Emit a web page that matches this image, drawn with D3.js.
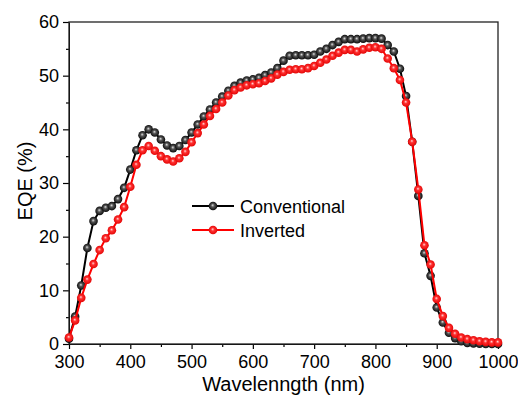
<!DOCTYPE html>
<html>
<head>
<meta charset="utf-8">
<script src="https://cdn.jsdelivr.net/npm/d3@7"></script>
<style>
  body { margin: 0; background: #fff; }
  text { font-family: "Liberation Sans", Arial, sans-serif; fill: #000; }
</style>
</head>
<body>
<div id="chart-area"></div>
<script>
// wavelength in nm, EQE in %
var wavelength = [300, 310, 320, 330, 340, 350, 360, 370, 380, 390,
                  400, 410, 420, 430, 440, 450, 460, 470, 480, 490,
                  500, 510, 520, 530, 540, 550, 560, 570, 580, 590,
                  600, 610, 620, 630, 640, 650, 660, 670, 680, 690,
                  700, 710, 720, 730, 740, 750, 760, 770, 780, 790,
                  800, 810, 820, 830, 840, 850, 860, 870, 880, 890,
                  900, 910, 920, 930, 940, 950, 960, 970, 980, 990, 1000];

var conventional = [1.0, 5.1, 10.9, 17.9, 22.9, 24.8, 25.4, 25.7, 27.0, 29.1,
                    32.5, 36.1, 38.9, 40.0, 39.4, 38.1, 37.0, 36.5, 36.9, 38.0,
                    39.4, 40.9, 42.4, 43.7, 45.0, 46.1, 47.2, 48.1, 48.7, 49.1,
                    49.3, 49.6, 50.1, 50.6, 51.4, 52.8, 53.7, 53.8, 53.8, 53.8,
                    53.9, 54.5, 55.0, 55.7, 56.3, 56.8, 56.8, 56.8, 56.9, 57.0,
                    57.0, 56.9, 55.7, 54.5, 51.3, 46.2, 37.7, 27.6, 16.9, 12.7,
                    6.8, 4.0, 2.1, 1.1, 0.5, 0.2, 0.1, 0.05, 0.0, 0.0, 0.0];

var inverted = [1.2, 4.4, 8.6, 12.0, 14.9, 17.5, 19.7, 21.2, 23.2, 25.5,
                29.3, 33.4, 36.1, 36.9, 36.0, 35.0, 34.4, 34.0, 34.6, 35.8,
                37.6, 39.3, 40.9, 42.5, 43.8, 45.0, 46.3, 47.3, 47.8, 48.2,
                48.4, 48.6, 49.0, 49.5, 50.2, 50.7, 51.1, 51.2, 51.2, 51.4,
                51.8, 52.4, 53.0, 53.7, 54.3, 54.8, 54.8, 54.5, 54.9, 55.2,
                55.3, 55.0, 53.2, 51.4, 49.2, 45.0, 37.7, 28.8, 18.4, 14.8,
                8.4, 5.2, 3.0, 1.9, 1.2, 0.9, 0.7, 0.5, 0.4, 0.3, 0.3];

var seriesNames = ["Conventional", "Inverted"];
var xTicks = [300, 400, 500, 600, 700, 800, 900, 1000];
var yTicks = [0, 10, 20, 30, 40, 50, 60];

var margin = { left: 69, right: 20, top: 22, bottom: 53 };
var width = 518 - margin.left - margin.right,
    height = 397 - margin.top - margin.bottom;

var svg = d3.select("#chart-area")
    .append("svg")
        .attr("width", 518)
        .attr("height", 397);

// shaded ball markers
var defs = svg.append("defs");
function ball(id, c0, c1, c2) {
    var g = defs.append("radialGradient")
        .attr("id", id)
        .attr("cx", "50%").attr("cy", "50%").attr("r", "55%")
        .attr("fx", "45%").attr("fy", "40%");
    g.append("stop").attr("offset", "0%").attr("stop-color", c0);
    g.append("stop").attr("offset", "35%").attr("stop-color", c1);
    g.append("stop").attr("offset", "100%").attr("stop-color", c2);
}
ball("ballBlack", "#e0e0e0", "#555", "#000");
ball("ballRed", "#ffd8d8", "#ff3030", "#e00000");

var g = svg.append("g")
    .attr("transform", "translate(" + margin.left + ", " + margin.top + ")");

var x = d3.scaleLinear().domain([300, 1000]).range([0, width]);
var y = d3.scaleLinear().domain([0, 60]).range([height, 0]);

// minor ticks first, then major ticks with labels
g.append("g")
    .attr("transform", "translate(0," + height + ")")
    .call(d3.axisBottom(x).tickValues(d3.range(350, 1000, 100)).tickSize(3).tickFormat(""))
    .call(function(a){ a.select(".domain").remove(); });
g.append("g")
    .call(d3.axisLeft(y).tickValues(d3.range(5, 60, 10)).tickSize(3).tickFormat(""))
    .call(function(a){ a.select(".domain").remove(); });

var xAxis = g.append("g")
    .attr("transform", "translate(0," + height + ")")
    .call(d3.axisBottom(x).tickValues(xTicks).tickFormat(d3.format("d"))
        .tickSize(5).tickSizeOuter(0).tickPadding(4));
var yAxis = g.append("g")
    .call(d3.axisLeft(y).tickValues(yTicks).tickFormat(d3.format("d"))
        .tickSize(6).tickSizeOuter(0).tickPadding(4));

g.selectAll(".tick line").attr("stroke", "#000").attr("stroke-width", 1.2);
g.selectAll(".tick text").style("font-size", "18px").style("font-family", "Liberation Sans, Arial, sans-serif");
xAxis.selectAll(".tick text").attr("dy", "0.85em");

// frame
g.append("rect")
    .attr("width", width).attr("height", height)
    .attr("fill", "none").attr("stroke", "#222").attr("stroke-width", 1.3);

var line = d3.line()
    .x(function(d){ return x(d[0]); })
    .y(function(d){ return y(d[1]); });

var series = [
    { name: seriesNames[0], color: "#000", fill: "url(#ballBlack)", values: conventional },
    { name: seriesNames[1], color: "#f00", fill: "url(#ballRed)", values: inverted }
];

series.forEach(function(s){
    var pts = wavelength.map(function(w, i){ return [w, s.values[i]]; });
    g.append("path")
        .datum(pts)
        .attr("fill", "none")
        .attr("stroke", s.color)
        .attr("stroke-width", 2)
        .attr("d", line);
    g.append("g").selectAll("circle")
        .data(pts)
        .enter()
        .append("circle")
            .attr("cx", function(d){ return x(d[0]); })
            .attr("cy", function(d){ return y(d[1]); })
            .attr("r", 4.3)
            .attr("fill", s.fill);
});

// legend
var legend = svg.append("g").attr("transform", "translate(192, 206)");
series.forEach(function(s, i){
    var row = legend.append("g").attr("transform", "translate(0," + (i * 24) + ")");
    row.append("line")
        .attr("x1", 0).attr("x2", 42)
        .attr("stroke", s.color).attr("stroke-width", 2);
    row.append("circle")
        .attr("cx", 21).attr("r", 4.3).attr("fill", s.fill);
    row.append("text")
        .attr("x", 48).attr("y", 7)
        .style("font-size", "18px")
        .text(s.name);
});

// axis titles
svg.append("text")
    .attr("x", margin.left + width / 2)
    .attr("y", 391)
    .attr("text-anchor", "middle")
    .style("font-size", "20px")
    .text("Wavelenngth (nm)");

svg.append("text")
    .attr("transform", "translate(32," + (margin.top + height / 2 - 2) + ") rotate(-90)")
    .attr("text-anchor", "middle")
    .style("font-size", "20px")
    .text("EQE (%)");
</script>
</body>
</html>
